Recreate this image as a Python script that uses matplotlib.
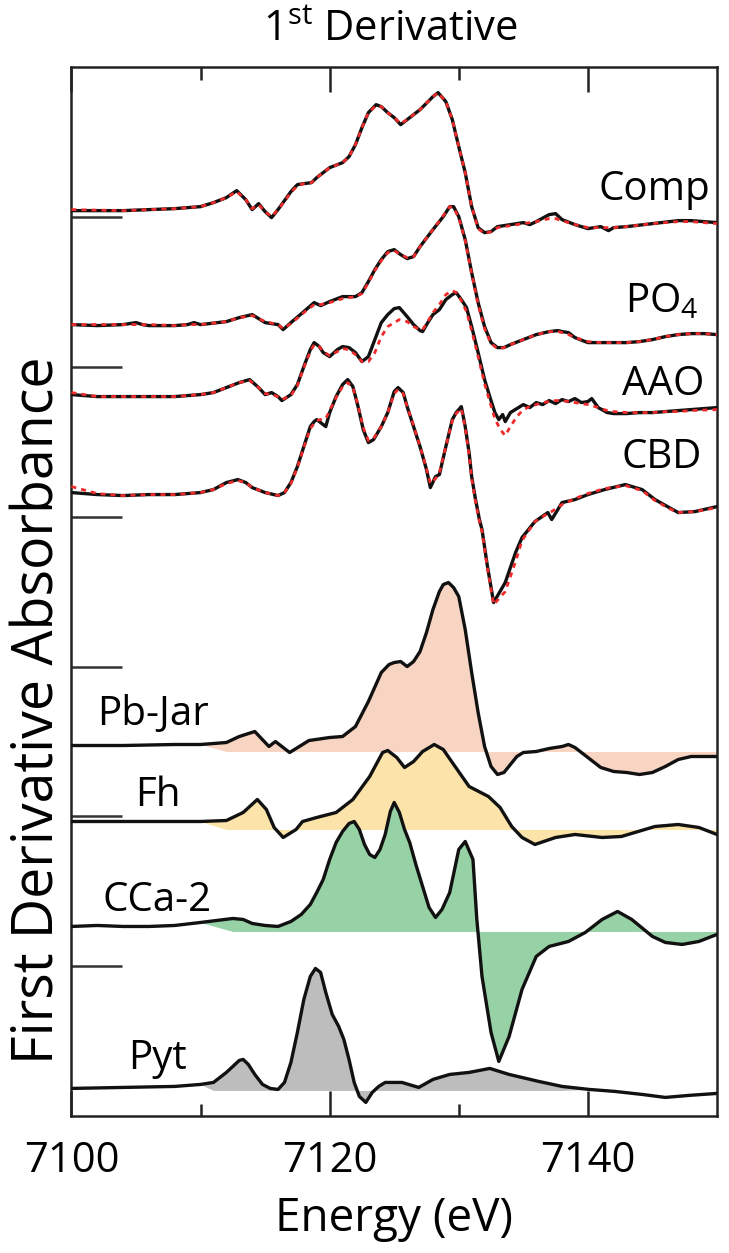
import matplotlib
matplotlib.use('Agg')
import matplotlib.pyplot as plt
import numpy as np

plt.rcParams['font.family'] = ['Open Sans', 'DejaVu Sans']
plt.rcParams['mathtext.fontset'] = 'custom'
plt.rcParams['mathtext.rm'] = 'Open Sans'

# ---- stacked first-derivative spectra (offset units) ----
comp_energy = [7100, 7104, 7108, 7109, 7110, 7111, 7112, 7112.8, 7113.5, 7114,
               7114.5, 7115, 7115.5, 7116, 7117, 7117.5, 7118, 7118.6, 7119, 7120,
               7121, 7121.5, 7122, 7122.5, 7123, 7123.6, 7124, 7124.5, 7125, 7125.5,
               7126, 7127, 7128, 7128.4, 7129, 7129.5, 7130, 7130.5, 7131, 7131.5,
               7132, 7132.5, 7133, 7134, 7135, 7135.5, 7136, 7137, 7137.5, 7138,
               7139, 7140, 7141, 7141.6, 7142, 7143, 7145, 7147, 7148, 7150]
comp_data = [9.06, 9.06, 9.08, 9.09, 9.10, 9.14, 9.19, 9.26, 9.17, 9.07,
             9.13, 9.05, 8.99, 9.07, 9.25, 9.32, 9.33, 9.34, 9.39, 9.49,
             9.54, 9.60, 9.72, 9.89, 10.04, 10.12, 10.10, 10.04, 9.99, 9.92,
             9.97, 10.07, 10.20, 10.24, 10.15, 9.97, 9.70, 9.44, 9.10, 8.89,
             8.84, 8.85, 8.90, 8.92, 8.94, 8.92, 8.95, 9.02, 9.03, 8.97,
             8.92, 8.88, 8.90, 8.86, 8.89, 8.90, 8.93, 8.96, 8.96, 8.94]
comp_fit = [9.07, 9.06, 9.08, 9.09, 9.10, 9.14, 9.19, 9.25, 9.17, 9.08,
            9.12, 9.05, 9.00, 9.07, 9.24, 9.31, 9.33, 9.34, 9.39, 9.49,
            9.54, 9.60, 9.72, 9.89, 10.04, 10.11, 10.10, 10.04, 9.99, 9.93,
            9.97, 10.07, 10.20, 10.24, 10.15, 9.97, 9.70, 9.44, 9.10, 8.88,
            8.83, 8.85, 8.89, 8.91, 8.93, 8.94, 8.95, 8.98, 8.98, 8.96,
            8.92, 8.89, 8.89, 8.89, 8.89, 8.90, 8.93, 8.95, 8.95, 8.93]

po4_energy = [7100, 7102, 7104, 7105, 7105.5, 7106, 7108, 7109, 7109.5, 7110,
              7112, 7113, 7114, 7115, 7116, 7116.4, 7117, 7118, 7118.8, 7119.3,
              7120, 7121, 7122, 7122.5, 7123, 7123.5, 7124, 7124.5, 7125, 7125.5,
              7126, 7126.5, 7127, 7128, 7128.8, 7129.3, 7129.6, 7130, 7130.5, 7131,
              7131.5, 7132, 7132.5, 7133, 7133.5, 7134, 7135, 7136, 7137, 7137.7,
              7138, 7138.5, 7139, 7140, 7141, 7142, 7143, 7144, 7145, 7146,
              7147, 7148, 7149, 7150]
po4_data = [7.92, 7.91, 7.92, 7.94, 7.92, 7.91, 7.91, 7.92, 7.94, 7.92,
            7.95, 7.99, 8.02, 7.94, 7.92, 7.87, 7.94, 8.05, 8.14, 8.11,
            8.15, 8.20, 8.20, 8.24, 8.35, 8.47, 8.57, 8.65, 8.67, 8.62,
            8.58, 8.60, 8.70, 8.87, 9.00, 9.10, 9.10, 9.00, 8.77, 8.44,
            8.14, 7.90, 7.74, 7.69, 7.69, 7.72, 7.77, 7.82, 7.85, 7.86,
            7.85, 7.84, 7.79, 7.74, 7.74, 7.74, 7.74, 7.75, 7.77, 7.80,
            7.82, 7.83, 7.83, 7.82]
po4_fit = [7.92, 7.92, 7.92, 7.92, 7.92, 7.92, 7.91, 7.92, 7.92, 7.92,
           7.95, 7.99, 8.01, 7.95, 7.92, 7.88, 7.93, 8.04, 8.12, 8.12,
           8.14, 8.18, 8.20, 8.23, 8.34, 8.46, 8.56, 8.64, 8.66, 8.62,
           8.59, 8.60, 8.70, 8.87, 9.01, 9.10, 9.09, 8.99, 8.76, 8.43,
           8.12, 7.88, 7.73, 7.68, 7.69, 7.72, 7.77, 7.82, 7.85, 7.85,
           7.84, 7.82, 7.79, 7.75, 7.74, 7.74, 7.74, 7.75, 7.77, 7.80,
           7.82, 7.83, 7.83, 7.82]

aao_energy = [7100, 7102, 7104, 7106, 7108, 7110, 7111, 7112, 7113, 7113.8,
              7114.5, 7115, 7115.5, 7116, 7116.3, 7117, 7117.5, 7118, 7118.5, 7118.8,
              7119.2, 7119.5, 7120, 7120.6, 7121, 7121.5, 7122, 7122.5, 7123, 7123.5,
              7124, 7124.5, 7125, 7125.4, 7126, 7126.5, 7127, 7127.2, 7127.6, 7128,
              7128.5, 7129, 7129.5, 7129.8, 7130.2, 7130.6, 7131, 7131.5, 7132, 7132.4,
              7132.8, 7133.1, 7133.4, 7133.6, 7134, 7134.5, 7135, 7135.5, 7136, 7136.5,
              7137, 7137.5, 7138, 7138.5, 7139, 7139.5, 7140, 7140.3, 7140.8, 7141.5,
              7142, 7143, 7144, 7145, 7146, 7147, 7148, 7150]
aao_data = [7.22, 7.20, 7.20, 7.20, 7.20, 7.22, 7.24, 7.29, 7.34, 7.37,
            7.29, 7.22, 7.24, 7.20, 7.16, 7.22, 7.32, 7.50, 7.67, 7.74,
            7.70, 7.64, 7.60, 7.67, 7.70, 7.69, 7.64, 7.55, 7.60, 7.77,
            7.94, 8.02, 8.08, 8.09, 8.00, 7.92, 7.86, 7.85, 7.94, 8.02,
            8.07, 8.17, 8.22, 8.24, 8.17, 8.09, 7.90, 7.64, 7.37, 7.20,
            7.04, 6.97, 7.02, 6.95, 7.04, 7.08, 7.12, 7.09, 7.14, 7.12,
            7.16, 7.13, 7.17, 7.15, 7.18, 7.14, 7.15, 7.18, 7.09, 7.04,
            7.03, 7.03, 7.04, 7.04, 7.05, 7.06, 7.07, 7.09]
aao_fit = [7.24, 7.20, 7.20, 7.20, 7.20, 7.22, 7.24, 7.29, 7.34, 7.36,
           7.29, 7.23, 7.22, 7.20, 7.17, 7.21, 7.31, 7.49, 7.65, 7.72,
           7.70, 7.65, 7.61, 7.65, 7.68, 7.67, 7.62, 7.55, 7.55, 7.64,
           7.80, 7.90, 7.94, 7.97, 7.95, 7.90, 7.87, 7.87, 7.95, 8.04,
           8.12, 8.22, 8.26, 8.24, 8.16, 8.05, 7.86, 7.60, 7.33, 7.15,
           6.98, 6.90, 6.84, 6.81, 6.90, 7.00, 7.07, 7.10, 7.12, 7.14,
           7.15, 7.16, 7.16, 7.15, 7.14, 7.13, 7.12, 7.11, 7.09, 7.06,
           7.05, 7.04, 7.04, 7.04, 7.05, 7.05, 7.06, 7.07]

cbd_energy = [7100, 7102, 7104, 7106, 7108, 7110, 7111, 7112, 7112.9, 7113.5,
              7114, 7115, 7116, 7116.5, 7117, 7117.5, 7118, 7118.5, 7118.8, 7119,
              7119.3, 7119.7, 7120, 7120.5, 7121, 7121.4, 7121.8, 7122.2, 7122.6, 7123,
              7123.4, 7124, 7124.5, 7125, 7125.3, 7125.7, 7126, 7126.5, 7127, 7127.5,
              7127.8, 7128.2, 7128.5, 7129, 7129.5, 7129.8, 7130.2, 7130.5, 7130.8, 7131,
              7131.3, 7131.6, 7131.8, 7132.2, 7132.7, 7133.6, 7134.4, 7134.9, 7135.9, 7136.9,
              7137.2, 7138, 7139, 7140, 7141.3, 7142.9, 7144.2, 7145.2, 7146.3, 7147,
              7148.3, 7150]
cbd_data = [6.24, 6.22, 6.21, 6.22, 6.22, 6.24, 6.27, 6.34, 6.37, 6.34,
            6.29, 6.24, 6.21, 6.24, 6.34, 6.50, 6.70, 6.90, 6.95, 6.97,
            6.94, 6.90, 7.04, 7.20, 7.32, 7.37, 7.30, 7.10, 6.87, 6.74,
            6.77, 6.90, 7.04, 7.25, 7.29, 7.24, 7.10, 6.90, 6.70, 6.47,
            6.29, 6.40, 6.42, 6.70, 6.97, 7.04, 7.10, 6.90, 6.64, 6.40,
            6.17, 5.97, 5.87, 5.52, 5.14, 5.34, 5.64, 5.79, 5.95, 6.04,
            5.97, 6.14, 6.17, 6.22, 6.27, 6.32, 6.27, 6.17, 6.09, 6.04,
            6.05, 6.10]
cbd_fit = [6.30, 6.23, 6.21, 6.22, 6.22, 6.24, 6.27, 6.33, 6.36, 6.34,
           6.29, 6.24, 6.21, 6.24, 6.33, 6.49, 6.69, 6.88, 6.93, 6.96,
           6.97, 6.98, 7.06, 7.19, 7.30, 7.34, 7.29, 7.11, 6.89, 6.76,
           6.78, 6.90, 7.04, 7.23, 7.27, 7.23, 7.10, 6.91, 6.70, 6.48,
           6.33, 6.38, 6.44, 6.70, 6.96, 7.03, 7.08, 6.89, 6.62, 6.38,
           6.15, 5.95, 5.85, 5.50, 5.12, 5.25, 5.55, 5.76, 5.95, 6.03,
           6.05, 6.12, 6.18, 6.23, 6.28, 6.31, 6.26, 6.16, 6.08, 6.04,
           6.05, 6.09]

# ---- reference compounds (filled) ----
pbjar_energy = [7100, 7104, 7108, 7110, 7112, 7113, 7114.2, 7115.3, 7115.8, 7116.9,
                7118.4, 7120, 7121, 7122, 7123, 7124, 7124.6, 7125, 7125.5, 7126,
                7126.5, 7127, 7127.5, 7128, 7128.5, 7128.8, 7129.2, 7129.6, 7130, 7130.5,
                7131, 7131.5, 7132, 7132.5, 7133, 7133.5, 7134, 7134.5, 7135, 7136,
                7137, 7138, 7138.5, 7139, 7140, 7141, 7142, 7143, 7144, 7145,
                7146, 7147, 7148, 7149, 7150]
pbjar_data = [3.71, 3.71, 3.72, 3.72, 3.74, 3.80, 3.85, 3.70, 3.75, 3.64,
              3.76, 3.79, 3.80, 3.90, 4.15, 4.44, 4.52, 4.54, 4.55, 4.50,
              4.55, 4.65, 4.84, 5.07, 5.25, 5.32, 5.34, 5.29, 5.20, 4.87,
              4.44, 4.04, 3.70, 3.50, 3.42, 3.44, 3.52, 3.60, 3.64, 3.65,
              3.68, 3.70, 3.72, 3.69, 3.59, 3.49, 3.45, 3.44, 3.42, 3.44,
              3.50, 3.57, 3.60, 3.60, 3.60]

fh_energy = [7100, 7104, 7108, 7110, 7112, 7113.3, 7114.4, 7115.1, 7115.7, 7116.4,
             7117.4, 7117.9, 7119, 7120.5, 7121.8, 7123.1, 7124.1, 7124.5, 7125.2, 7125.8,
             7126.5, 7127.2, 7128.1, 7128.8, 7129.5, 7130.8, 7132.3, 7133.2, 7134.1, 7134.9,
             7135.9, 7137.5, 7139, 7141.1, 7142.6, 7145.2, 7147, 7148.6, 7150]
fh_data = [2.95, 2.95, 2.95, 2.95, 2.96, 3.04, 3.17, 3.07, 2.89, 2.79,
           2.87, 2.95, 2.99, 3.04, 3.17, 3.40, 3.64, 3.66, 3.59, 3.49,
           3.55, 3.65, 3.72, 3.67, 3.54, 3.30, 3.20, 3.09, 2.90, 2.79,
           2.72, 2.79, 2.82, 2.79, 2.80, 2.90, 2.92, 2.89, 2.82]

cca_energy = [7100, 7102, 7104, 7106, 7108, 7110, 7112.5, 7113.3, 7114, 7115,
              7116, 7117, 7117.8, 7118.5, 7119, 7119.5, 7120, 7120.5, 7121, 7121.5,
              7121.9, 7122.3, 7122.7, 7123.1, 7123.5, 7123.9, 7124.3, 7124.7, 7125.0, 7125.4,
              7125.8, 7126.2, 7126.7, 7127.2, 7127.7, 7128.2, 7128.7, 7129.3, 7130.0, 7130.5,
              7131.1, 7131.4, 7131.8, 7132.5, 7133.1, 7133.9, 7134.9, 7136, 7137, 7138.5,
              7139.8, 7141.1, 7142.3, 7143.4, 7145, 7146, 7147.3, 7148.6, 7150]
cca_data = [1.90, 1.91, 1.90, 1.90, 1.91, 1.94, 1.98, 1.97, 1.93, 1.91,
            1.90, 1.95, 2.02, 2.12, 2.24, 2.37, 2.57, 2.74, 2.85, 2.93,
            2.95, 2.87, 2.72, 2.62, 2.59, 2.67, 2.82, 3.05, 3.14, 3.04,
            2.87, 2.74, 2.51, 2.30, 2.09, 1.99, 2.07, 2.24, 2.67, 2.75,
            2.57, 1.97, 1.40, 0.84, 0.55, 0.80, 1.27, 1.60, 1.70, 1.75,
            1.84, 1.97, 2.05, 1.97, 1.80, 1.74, 1.72, 1.75, 1.82]

pyt_energy = [7100, 7104, 7108, 7110, 7111, 7112, 7112.5, 7113, 7113.3, 7113.7,
              7114.2, 7114.8, 7115.4, 7116, 7116.5, 7117, 7117.5, 7118, 7118.5, 7118.9,
              7119.3, 7119.7, 7120.2, 7120.7, 7121.1, 7121.5, 7121.9, 7122.3, 7122.8, 7123.3,
              7123.8, 7124.3, 7125.6, 7126.9, 7128, 7129.3, 7130.8, 7132.4, 7133.9, 7136.2,
              7138, 7140.1, 7142.1, 7144.2, 7146, 7147.8, 7150]
pyt_data = [0.28, 0.29, 0.30, 0.32, 0.34, 0.44, 0.50, 0.56, 0.57, 0.52,
            0.42, 0.32, 0.28, 0.27, 0.34, 0.54, 0.84, 1.17, 1.40, 1.48,
            1.44, 1.24, 1.02, 0.90, 0.77, 0.57, 0.34, 0.20, 0.14, 0.24,
            0.30, 0.34, 0.34, 0.29, 0.37, 0.42, 0.44, 0.48, 0.42, 0.35,
            0.30, 0.27, 0.25, 0.22, 0.19, 0.21, 0.23]

ref_names = ['Pb-Jar', 'Fh', 'CCa-2', 'Pyt']
ref_fill_levels = [3.65, 2.87, 1.85, 0.26]
ref_fill_ranges = [(7112, 7150), (7112, 7150), (7112, 7150), (7111, 7140)]
ref_colors = ['#F8D5C3', '#FCE3A9', '#97D1A6', '#BDBDBD']

sample_names = ['Comp', 'PO$_{4}$', 'AAO', 'CBD']

fig = plt.figure(figsize=(7.29, 12.53), dpi=100)
ax = fig.add_axes([0.098, 0.109, 0.8855, 0.8378])

samples = [(comp_energy, comp_data, comp_fit), (po4_energy, po4_data, po4_fit),
           (aao_energy, aao_data, aao_fit), (cbd_energy, cbd_data, cbd_fit)]
for e, d, f in samples:
    ax.plot(e, d, color='#111111', lw=2.4, solid_joinstyle='round', zorder=3)
    ax.plot(e, f, color='#EE2A2A', lw=2.0, dashes=(1.8, 1.8), zorder=4)

refs = [(pbjar_energy, pbjar_data), (fh_energy, fh_data),
        (cca_energy, cca_data), (pyt_energy, pyt_data)]
for (e, d), lvl, (lo, hi), c in zip(refs, ref_fill_levels, ref_fill_ranges, ref_colors):
    e = np.array(e)
    d = np.array(d)
    ax.fill_between(e, d, lvl, where=(e >= lo) & (e <= hi), color=c,
                    lw=0, interpolate=True, zorder=1)
    ax.plot(e, d, color='#111111', lw=2.4, solid_joinstyle='round', zorder=3)

# curve labels
label_fs = 29
ax.text(7149.5, 9.17, sample_names[0], ha='right', va='baseline', fontsize=label_fs)
ax.text(7148.6, 8.04, sample_names[1], ha='right', va='baseline', fontsize=label_fs)
ax.text(7149.0, 7.22, sample_names[2], ha='right', va='baseline', fontsize=label_fs)
ax.text(7148.8, 6.49, sample_names[3], ha='right', va='baseline', fontsize=label_fs)
ax.text(7102.0, 3.92, ref_names[0], ha='left', va='baseline', fontsize=label_fs)
ax.text(7104.9, 3.10, ref_names[1], ha='left', va='baseline', fontsize=label_fs)
ax.text(7102.4, 2.05, ref_names[2], ha='left', va='baseline', fontsize=label_fs)
ax.text(7104.4, 0.47, ref_names[3], ha='left', va='baseline', fontsize=label_fs)

ax.set_xlim(7100, 7150)
ax.set_ylim(0, 10.5)
ax.set_xticks([7100, 7120, 7140])
ax.set_xticks([7110, 7130], minor=True)
ax.set_yticks([1.5, 3.0, 4.5, 6.0, 7.5, 9.0])
ax.tick_params(axis='x', which='major', direction='in', length=18, width=1.8,
               top=True, bottom=True, labelsize=30, pad=17, color='#222222')
ax.tick_params(axis='x', which='minor', direction='in', length=9, width=1.8,
               top=True, bottom=True, color='#222222')
ax.tick_params(axis='y', direction='in', length=37, width=1.8, left=True,
               right=False, labelleft=False, color='#333333')
for s in ax.spines.values():
    s.set_linewidth(1.8)
    s.set_color('#222222')

ax.set_xlabel('Energy (eV)', fontsize=33, labelpad=10)
fig.text(0.054, 0.433, 'First Derivative Absorbance', rotation=90,
         ha='center', va='center', fontsize=40)
fig.text(0.535, 0.976, '1$^{\\mathrm{st}}$ Derivative', ha='center', va='center',
         fontsize=30)

fig.savefig('out.png', dpi=100)
